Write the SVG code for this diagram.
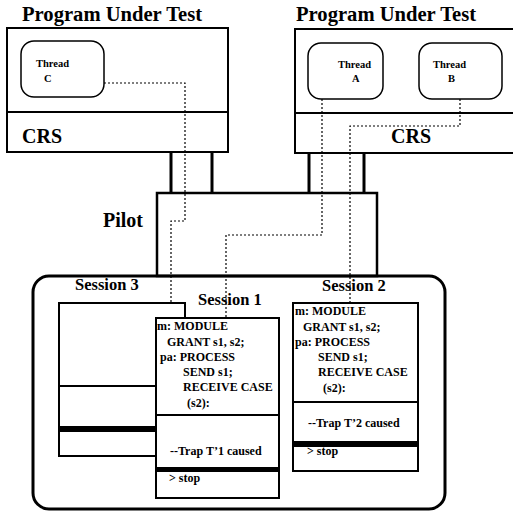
<svg xmlns="http://www.w3.org/2000/svg" width="513" height="513" viewBox="0 0 513 513">
  <style>
    .t { font-family: "Liberation Serif", "Times New Roman", serif; font-weight: bold; fill: #000; }
    .big { font-size: 20px; }
    .title { font-size: 20.6px; }
    .sess { font-size: 16.5px; }
    .thr { font-size: 10.5px; }
    .code { font-size: 12px; }
    .box { fill: #fff; stroke: #000; stroke-width: 2; }
    .ln { stroke: #000; stroke-width: 2; fill: none; }
    .pillar { stroke: #000; stroke-width: 3; fill: none; }
    .band { fill: #000; }
    .dot { stroke: #000; stroke-width: 1.2; stroke-dasharray: 2 2; fill: none; }
  </style>
  <rect width="513" height="513" fill="#fff"/>

  <!-- Left program under test -->
  <g id="put-left">
    <text class="t title" x="22" y="21">Program Under Test</text>
    <rect class="box" x="7" y="28" width="221" height="124"/>
    <line class="ln" x1="7" y1="112" x2="228" y2="112"/>
    <text class="t big" x="22" y="143">CRS</text>
  </g>
  <g id="thread-c">
    <rect x="21" y="41" width="83" height="56" rx="13" fill="#fff" stroke="#000" stroke-width="1.5"/>
    <text class="t thr" x="36" y="67">Thread</text>
    <text class="t thr" x="44" y="82">C</text>
  </g>

  <!-- Right program under test -->
  <g id="put-right">
    <text class="t title" x="296" y="21">Program Under Test</text>
    <rect class="box" x="295" y="29" width="230" height="124"/>
    <line class="ln" x1="295" y1="113" x2="513" y2="113"/>
    <text class="t big" x="391" y="143">CRS</text>
  </g>
  <g id="thread-a">
    <rect x="308" y="43" width="75" height="56" rx="13" fill="#fff" stroke="#000" stroke-width="1.5"/>
    <text class="t thr" x="338" y="68">Thread</text>
    <text class="t thr" x="352" y="82">A</text>
  </g>
  <g id="thread-b">
    <rect x="419" y="43" width="83" height="56" rx="13" fill="#fff" stroke="#000" stroke-width="1.5"/>
    <text class="t thr" x="433" y="68">Thread</text>
    <text class="t thr" x="448" y="82">B</text>
  </g>

  <!-- Pilot -->
  <g id="pilot">
    <rect x="157" y="193" width="220" height="83" fill="#fff" stroke="#000" stroke-width="2.5"/>
    <text class="t big" x="103" y="227">Pilot</text>
  </g>

  <!-- Session container -->
  <g id="sessions">
    <rect x="33" y="276" width="412" height="233" rx="16" fill="none" stroke="#000" stroke-width="3"/>
    <text class="t sess" x="75" y="290">Session 3</text>
    <text class="t sess" x="198" y="305">Session 1</text>
    <text class="t sess" x="322" y="291">Session 2</text>
  </g>

  <g id="session-3">
    <rect class="box" x="59" y="303" width="126" height="153"/>
    <line class="ln" x1="59" y1="386" x2="185" y2="386"/>
    <rect class="band" x="59" y="426" width="126" height="6"/>
  </g>

  <g id="session-1">
    <rect class="box" x="156" y="318" width="123" height="180"/>
    <line class="ln" x1="156" y1="415" x2="279" y2="415"/>
    <rect class="band" x="156" y="467" width="123" height="5"/>
    <text class="t code" x="157" y="330">m: MODULE</text>
    <text class="t code" x="167" y="346">GRANT s1, s2;</text>
    <text class="t code" x="160" y="361">pa: PROCESS</text>
    <text class="t code" x="183" y="376">SEND s1;</text>
    <text class="t code" x="183" y="391">RECEIVE CASE</text>
    <text class="t code" x="187" y="407">(s2):</text>
    <text class="t code" x="170" y="455">--Trap T’1 caused</text>
    <text class="t code" x="169" y="482">&gt; stop</text>
  </g>

  <g id="session-2">
    <rect class="box" x="293" y="303" width="125" height="168"/>
    <line class="ln" x1="293" y1="402" x2="418" y2="402"/>
    <rect class="band" x="293" y="441" width="125" height="6"/>
    <text class="t code" x="295" y="315">m: MODULE</text>
    <text class="t code" x="303" y="331">GRANT s1, s2;</text>
    <text class="t code" x="295" y="346">pa: PROCESS</text>
    <text class="t code" x="318" y="361">SEND s1;</text>
    <text class="t code" x="318" y="376">RECEIVE CASE</text>
    <text class="t code" x="323" y="392">(s2):</text>
    <text class="t code" x="308" y="427">--Trap T’2 caused</text>
    <text class="t code" x="307" y="455">&gt; stop</text>
  </g>

  <!-- Connectors: CRS-to-Pilot links and thread-to-session traces -->
  <g id="connectors">
    <line class="pillar" x1="171" y1="152" x2="171" y2="193"/>
    <line class="pillar" x1="212" y1="152" x2="212" y2="193"/>
    <line class="pillar" x1="309" y1="153" x2="309" y2="193"/>
    <line class="pillar" x1="364" y1="153" x2="364" y2="193"/>
    <polyline class="dot" points="104,83 185,83 185,221 171,221 171,303"/>
    <polyline class="dot" points="322,99 322,235 226,235 226,318"/>
    <polyline class="dot" points="460,99 460,126 350,126 350,303"/>
  </g>
</svg>
